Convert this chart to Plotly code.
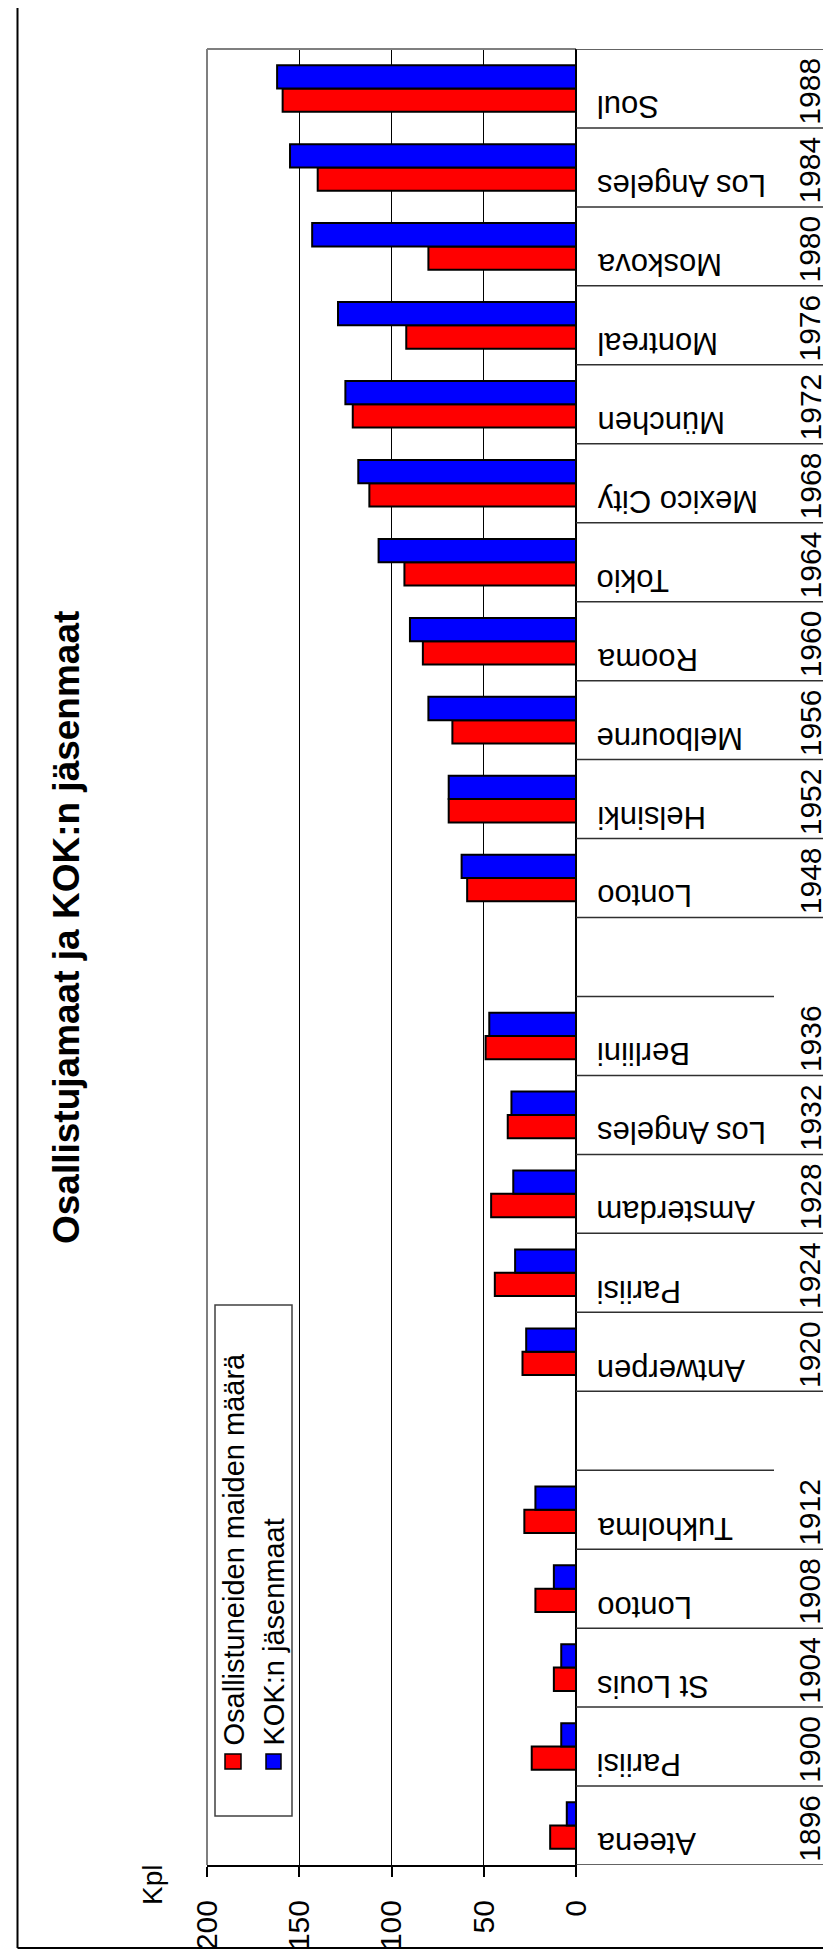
import plotly.graph_objects as go

# ---- data ----
years = ["1896", "1900", "1904", "1908", "1912", "", "1920", "1924", "1928", "1932", "1936", "",
         "1948", "1952", "1956", "1960", "1964", "1968", "1972", "1976", "1980", "1984", "1988"]
cities = ["Ateena", "Pariisi", "St Louis", "Lontoo", "Tukholma", "", "Antwerpen", "Pariisi",
          "Amsterdam", "Los Angeles", "Berliini", "", "Lontoo", "Helsinki", "Melbourne", "Rooma",
          "Tokio", "Mexico City", "München", "Montreal", "Moskova", "Los Angeles", "Soul"]
participants = [14, 24, 12, 22, 28, None, 29, 44, 46, 37, 49, None,
                59, 69, 67, 83, 93, 112, 121, 92, 80, 140, 159]
members = [5, 8, 8, 12, 22, None, 27, 33, 34, 35, 47, None,
           62, 69, 80, 90, 107, 118, 125, 129, 143, 155, 162]
value_ticks = [0, 50, 100, 150, 200]
short_boundaries = [4.5, 10.5]  # category-boundary lines that stop before the year column

title = "Osallistujamaat ja KOK:n jäsenmaat"
series_names = ["Osallistuneiden maiden määrä", "KOK:n jäsenmaat"]
unit_label = "Kpl"

W, H = 831, 1955
L, R, T, B = 199, 263, 41, 98
PW = W - L - R
PH = H - T - B
FONT = "Liberation Sans, Arial, sans-serif"


def px_x(px):
    return (px - L) / PW


def px_y(py):
    return (H - B - py) / PH


pos = list(range(len(years)))

fig = go.Figure()
fig.add_trace(go.Bar(y=pos, x=participants, orientation="h", name=series_names[0],
                     marker=dict(color="#ff0000", line=dict(color="black", width=2))))
fig.add_trace(go.Bar(y=pos, x=members, orientation="h", name=series_names[1],
                     marker=dict(color="#0000ff", line=dict(color="black", width=2))))

shapes = []
# outer border (left and bottom visible)
shapes.append(dict(type="line", xref="paper", yref="paper", x0=px_x(9.5), x1=px_x(9.5),
                   y0=px_y(-5), y1=px_y(1940), line=dict(color="black", width=2)))
shapes.append(dict(type="line", xref="paper", yref="paper", x0=px_x(9.5), x1=px_x(840),
                   y0=px_y(1940), y1=px_y(1940), line=dict(color="black", width=2)))
# plot frame (gray left & top)
shapes.append(dict(type="line", xref="paper", yref="paper", x0=0, x1=0, y0=0, y1=1,
                   line=dict(color="#7f7f7f", width=2)))
shapes.append(dict(type="line", xref="paper", yref="paper", x0=0, x1=1, y0=1, y1=1,
                   line=dict(color="#7f7f7f", width=2)))
# zero (category) axis line, with small tick below
shapes.append(dict(type="line", xref="paper", yref="paper", x0=1, x1=1, y0=px_y(1866), y1=1,
                   line=dict(color="black", width=2)))
# category table lines
x_full = px_x(823)
x_short = px_x(766)
for k in range(-1, len(years)):
    yb = k + 0.5
    x_end = x_short if yb in short_boundaries else x_full
    shapes.append(dict(type="line", xref="paper", yref="y", x0=1, x1=x_end, y0=yb, y1=yb,
                       line=dict(color="#303030", width=1.5)))
# legend box and markers
shapes.append(dict(type="rect", xref="paper", yref="paper", x0=px_x(207), x1=px_x(284),
                   y0=px_y(1808), y1=px_y(1297), line=dict(color="#404040", width=1.5),
                   fillcolor="white", layer="above"))
shapes.append(dict(type="rect", xref="paper", yref="paper", x0=px_x(217), x1=px_x(233),
                   y0=px_y(1761), y1=px_y(1746), line=dict(color="black", width=1.5),
                   fillcolor="#ff0000", layer="above"))
shapes.append(dict(type="rect", xref="paper", yref="paper", x0=px_x(258), x1=px_x(273),
                   y0=px_y(1761), y1=px_y(1746), line=dict(color="black", width=1.5),
                   fillcolor="#0000ff", layer="above"))

annotations = []
annotations.append(dict(text=f"<b>{title}</b>", xref="paper", yref="paper",
                        x=px_x(58), y=px_y(920), textangle=-90, showarrow=False,
                        xanchor="center", yanchor="middle",
                        font=dict(family=FONT, size=37, color="black")))
annotations.append(dict(text=unit_label, xref="paper", yref="paper", x=px_x(144), y=px_y(1877),
                        textangle=-90, showarrow=False, xanchor="center", yanchor="middle",
                        font=dict(family=FONT, size=28, color="black")))
for name, xc in zip(series_names, [225, 265]):
    annotations.append(dict(text=name, xref="paper", yref="paper", x=px_x(xc), y=px_y(1740),
                            textangle=-90, showarrow=False, xanchor="center", yanchor="bottom",
                            font=dict(family=FONT, size=29, color="black")))
for k, (c, yr) in enumerate(zip(cities, years)):
    if c:
        annotations.append(dict(text=c, xref="paper", yref="y", x=px_x(587), y=k - 0.23,
                                textangle=180, showarrow=False, xanchor="left",
                                yanchor="middle",
                                font=dict(family=FONT, size=31, color="black")))
    if yr:
        annotations.append(dict(text=yr, xref="paper", yref="y", x=px_x(802), y=k - 0.04,
                                textangle=-90, showarrow=False, xanchor="center",
                                yanchor="middle",
                                font=dict(family=FONT, size=30, color="black")))

fig.update_layout(
    width=W, height=H,
    margin=dict(l=L, r=R, t=T, b=B, pad=0),
    paper_bgcolor="white", plot_bgcolor="white",
    barmode="group", bargap=0.41, bargroupgap=0,
    showlegend=False,
    shapes=shapes, annotations=annotations,
    xaxis=dict(range=[200, 0], tickvals=value_ticks, ticktext=[str(v) for v in value_ticks],
               tickangle=-90, ticks="outside", ticklen=10, tickwidth=1.5, tickcolor="black",
               showline=True, linecolor="black", linewidth=2,
               showgrid=True, gridcolor="black", gridwidth=1, zeroline=False,
               ticklabelstandoff=11,
               tickfont=dict(family=FONT, size=30, color="black")),
    yaxis=dict(range=[-0.5, len(years) - 0.5], showticklabels=False, showgrid=False,
               zeroline=False, showline=False, ticks=""),
)

fig.write_html("out.html")
